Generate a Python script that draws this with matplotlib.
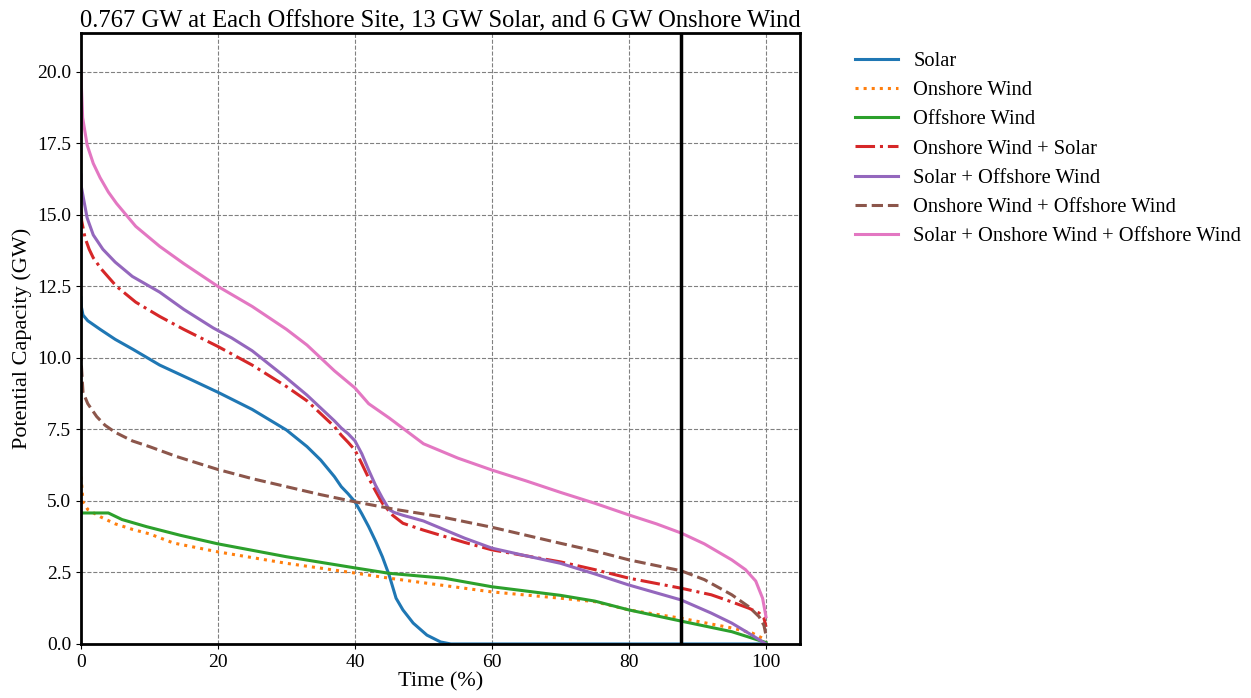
import matplotlib
matplotlib.use("Agg")
import matplotlib.pyplot as plt

plt.rcParams['font.family'] = ['Liberation Serif', 'DejaVu Serif']

title = "0.767 GW at Each Offshore Site, 13 GW Solar, and 6 GW Onshore Wind"
xlabel = "Time (%)"
ylabel = "Potential Capacity (GW)"
cutoff_x = 87.6

solar_x = [0, 0.05, 0.3, 1, 2.8, 5, 7.6, 11.5, 16, 20, 25, 30, 33, 35, 37, 38, 39, 40, 41, 42, 43, 44, 45, 45.5, 46, 47, 48.5, 50.5, 52.5, 54, 100]
solar_y = [12.1, 11.8, 11.5, 11.3, 11.0, 10.65, 10.3, 9.75, 9.25, 8.8, 8.2, 7.48, 6.9, 6.43, 5.85, 5.5, 5.25, 4.97, 4.55, 4.1, 3.6, 3.05, 2.4, 2.0, 1.6, 1.19, 0.73, 0.31, 0.07, 0.0, 0.0]

onw_x = [0, 0.1, 0.3, 1, 2.8, 5, 7.6, 10, 13.5, 20, 30, 40, 45, 52.5, 60, 70, 75, 80, 87.6, 95, 98, 99.5, 100]
onw_y = [5.85, 5.6, 4.97, 4.7, 4.45, 4.2, 4.0, 3.85, 3.53, 3.22, 2.82, 2.48, 2.3, 2.06, 1.82, 1.6, 1.48, 1.19, 0.9, 0.56, 0.38, 0.2, 0.1]

offw_x = [0, 4.0, 6, 9.6, 14.5, 20, 30, 40, 45, 53, 60, 70, 75, 80, 87.6, 95, 100]
offw_y = [4.58, 4.58, 4.35, 4.1, 3.8, 3.5, 3.05, 2.66, 2.47, 2.3, 2.0, 1.7, 1.5, 1.19, 0.8, 0.43, 0.05]

onw_solar_x = [0, 0.1, 0.6, 1.2, 1.8, 3, 5.2, 8, 11.5, 15, 20, 25, 30, 33, 35, 37, 38, 39, 40, 41, 42, 43, 44, 45.5, 47, 50, 52.5, 56, 60, 65, 70, 75, 80, 87.6, 92, 95, 97.5, 99, 99.7, 100]
onw_solar_y = [15.2, 14.8, 14.2, 13.8, 13.5, 13.1, 12.5, 11.95, 11.45, 11.0, 10.4, 9.75, 9.0, 8.5, 8.05, 7.6, 7.3, 7.05, 6.78, 6.3, 5.8, 5.35, 4.92, 4.5, 4.22, 3.98, 3.8, 3.55, 3.29, 3.08, 2.87, 2.6, 2.3, 1.95, 1.72, 1.47, 1.25, 1.08, 0.9, 0.6]

solar_offw_x = [0, 0.05, 0.2, 0.9, 1.8, 3.2, 5, 7.5, 11.5, 15, 19.3, 22, 25, 30, 33, 35, 37, 38, 39, 40, 41, 42, 43, 44, 45, 45.7, 47, 50, 52.5, 56, 60, 65, 70, 75, 80, 87.6, 92, 95, 98, 100]
solar_offw_y = [16.4, 16.0, 15.8, 14.9, 14.3, 13.8, 13.35, 12.85, 12.3, 11.7, 11.05, 10.7, 10.25, 9.3, 8.7, 8.25, 7.8, 7.55, 7.35, 7.1, 6.65, 6.08, 5.55, 5.1, 4.7, 4.6, 4.5, 4.3, 4.05, 3.7, 3.35, 3.08, 2.82, 2.45, 2.06, 1.54, 1.08, 0.73, 0.3, 0.0]

onw_offw_x = [0, 0.05, 0.3, 1, 2.3, 3.5, 5, 7.5, 10, 14, 20, 25, 30, 35, 40, 46, 52.5, 60, 65, 70, 75, 80, 87.6, 91, 95, 97.5, 99, 99.7, 100]
onw_offw_y = [10.3, 9.8, 8.8, 8.4, 7.95, 7.65, 7.4, 7.1, 6.9, 6.55, 6.1, 5.78, 5.5, 5.22, 4.97, 4.7, 4.45, 4.08, 3.8, 3.52, 3.25, 2.94, 2.56, 2.25, 1.72, 1.3, 0.95, 0.65, 0.3]

all_x = [0, 0.05, 0.25, 0.9, 1.8, 2.8, 4, 5.2, 8, 11.5, 15, 20, 25, 30, 33, 35, 37, 40, 42, 45, 47.5, 50, 55, 60, 65, 70, 75, 80, 84, 87.6, 91, 95, 97, 98.5, 99.5, 100]
all_y = [20.4, 19.6, 18.4, 17.45, 16.8, 16.3, 15.8, 15.4, 14.6, 13.9, 13.3, 12.5, 11.8, 11.0, 10.45, 10.0, 9.55, 8.95, 8.4, 7.9, 7.45, 7.0, 6.5, 6.08, 5.7, 5.3, 4.92, 4.51, 4.2, 3.88, 3.5, 2.94, 2.6, 2.2, 1.6, 0.95]

series = [
    ("Solar", solar_x, solar_y, "#1f77b4", "-"),
    ("Onshore Wind", onw_x, onw_y, "#ff7f0e", ":"),
    ("Offshore Wind", offw_x, offw_y, "#2ca02c", "-"),
    ("Onshore Wind + Solar", onw_solar_x, onw_solar_y, "#d62728", "-."),
    ("Solar + Offshore Wind", solar_offw_x, solar_offw_y, "#9467bd", "-"),
    ("Onshore Wind + Offshore Wind", onw_offw_x, onw_offw_y, "#8c564b", "--"),
    ("Solar + Onshore Wind + Offshore Wind", all_x, all_y, "#e377c2", "-"),
]

fig = plt.figure(figsize=(12.51, 6.98), dpi=100)
ax = fig.add_axes([0.0647, 0.0774, 0.575, 0.8753])

for label, xs, ys, color, ls in series:
    ax.plot(xs, ys, color=color, linestyle=ls, linewidth=2.2, label=label)

ax.axvline(cutoff_x, color="black", linewidth=2.5)

ax.set_xlim(0, 105)
ax.set_ylim(0, 21.36)
ax.set_yticks([0, 2.5, 5, 7.5, 10, 12.5, 15, 17.5, 20])
ax.set_xticks([0, 20, 40, 60, 80, 100])
ax.grid(True, color="gray", linestyle="--", linewidth=0.8)
for s in ax.spines.values():
    s.set_linewidth(2)
ax.tick_params(labelsize=14)
ax.set_title(title, fontsize=17.7, pad=4)
ax.set_xlabel(xlabel, fontsize=16, labelpad=1)
ax.set_ylabel(ylabel, fontsize=16)
ax.legend(loc="upper left", bbox_to_anchor=(1.05, 1.0), frameon=False, fontsize=14.8,
          labelspacing=0.48, handlelength=2.1, handletextpad=0.75)

fig.savefig("out.png", dpi=100)
